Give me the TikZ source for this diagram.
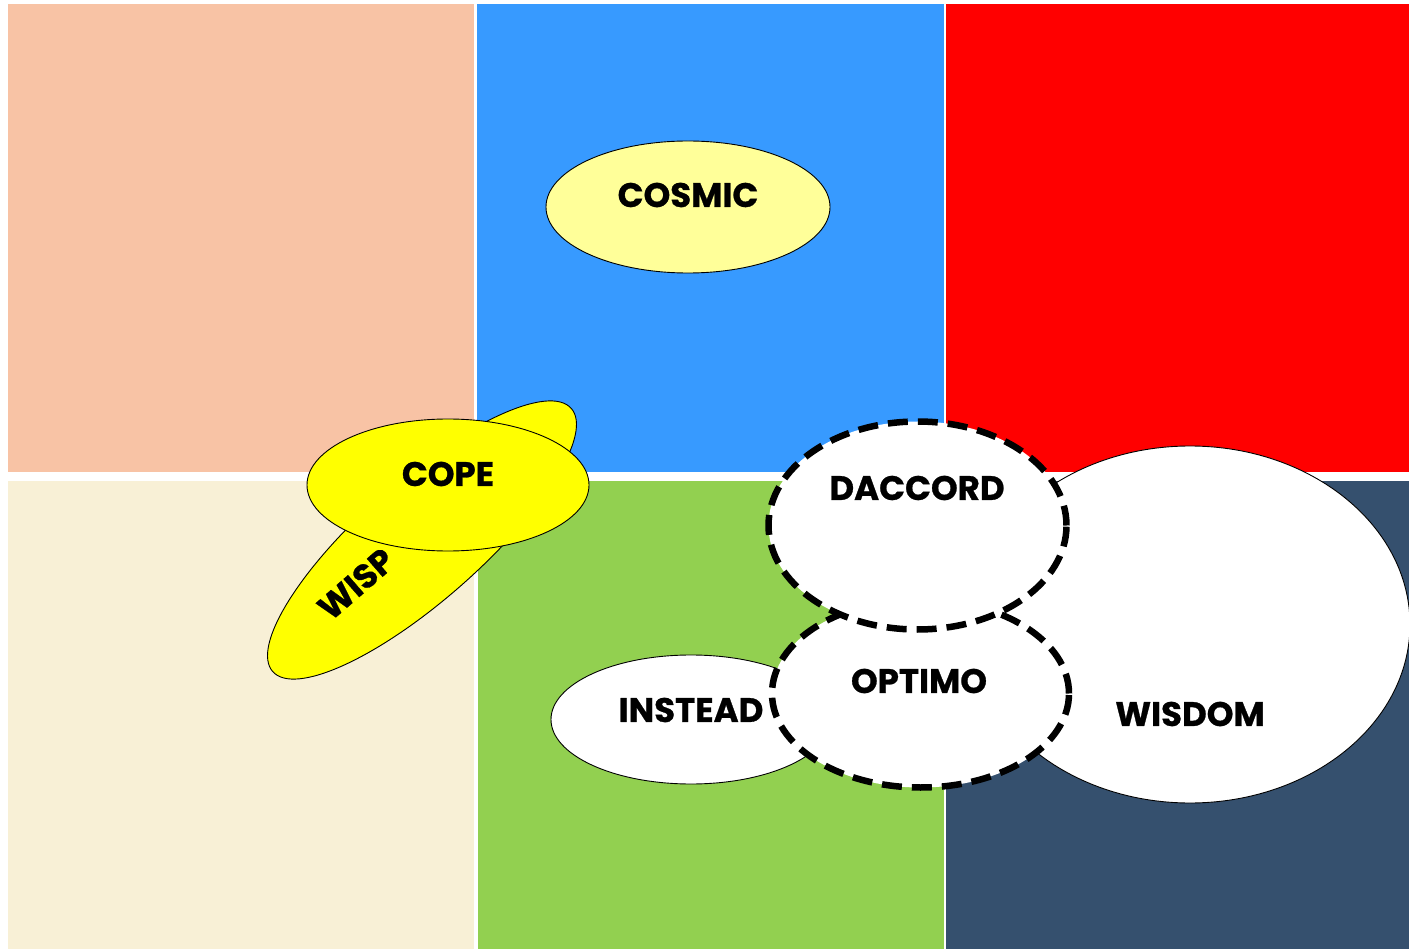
\documentclass[tikz,border=0pt]{standalone}
\usepackage{fontspec}
\newfontfamily\lblfont{Poppins}[BoldFeatures={FakeBold=0.8}]
\usetikzlibrary{shapes.geometric}
\definecolor{cPeach}{RGB}{248,195,165}
\definecolor{cBlue}{RGB}{55,154,255}
\definecolor{cRed}{RGB}{255,0,0}
\definecolor{cCream}{RGB}{248,240,214}
\definecolor{cGreen}{RGB}{146,208,80}
\definecolor{cNavy}{RGB}{53,80,110}
\definecolor{cPale}{RGB}{255,255,153}
\definecolor{cYellow}{RGB}{255,255,0}
\tikzset{
  quad/.style={fill=#1, draw=none},
  blob/.style={ellipse, draw=black, line width=0.9pt, inner sep=0pt, fill=#1},
  dashblob/.style={ellipse, draw=black, line width=6.5pt, dash pattern=on 20pt off 10pt, inner sep=0pt, fill=white},
  word/.style={font=\lblfont\bfseries\fontsize{34}{34}\selectfont, inner sep=0pt, text=black}
}
\begin{document}
\begin{tikzpicture}[x=1pt,y=-1pt]
  \useasboundingbox[fill=white] (0,0) rectangle (1409,949);
  % background quadrants
  \fill[quad=cPeach]  (8,4)     rectangle (474,472.5);
  \fill[quad=cBlue]   (477,4)   rectangle (943.5,472.5);
  \fill[quad=cRed]    (946,4)   rectangle (1409,472.5);
  \fill[quad=cCream]  (8,481)   rectangle (474,949);
  \fill[quad=cGreen]  (478,481) rectangle (943.5,949);
  \fill[quad=cNavy]   (946,481) rectangle (1409,949);

  % ellipses, back to front
  \node[blob=cPale, minimum width=284pt, minimum height=132pt] (cosmic) at (688,207) {};
  \node[word] (cosmicT) at (688,195) {COSMIC};

  \node[blob=cYellow, rotate=41.4, minimum width=398pt, minimum height=120pt] (wisp) at (422,540) {};
  \node[word, rotate=41] (wispT) at (356,584) {WISP};

  \node[blob=cYellow, minimum width=282pt, minimum height=132pt] (cope) at (448,485) {};
  \node[word] (copeT) at (448,474) {COPE};

  \node[blob=white, minimum width=440pt, minimum height=357pt] (wisdom) at (1190,624.5) {};
  \node[word] (wisdomT) at (1190,714) {WISDOM};

  \node[blob=white, minimum width=280pt, minimum height=129pt] (instead) at (691,719.5) {};
  \node[word] (insteadT) at (691,710) {INSTEAD};

  \node[dashblob, minimum width=297pt, minimum height=188pt] (optimo) at (920.5,693.5) {};
  \node[word] (optimoT) at (919,681) {OPTIMO};

  \node[dashblob, minimum width=298pt, minimum height=208pt] (daccord) at (917.5,525.5) {};
  \node[word] (daccordT) at (917,488) {DACCORD};
\end{tikzpicture}
\end{document}
